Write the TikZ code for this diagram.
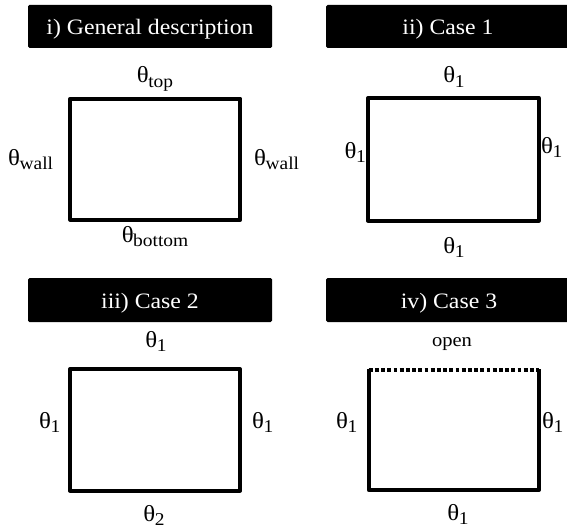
\documentclass[tikz,border=0pt]{standalone}
\usepackage{fontspec}
\setmainfont{Liberation Serif}[FakeStretch=1.08]
\newcommand\thsub[1]{{\fontsize{23}{23}\selectfont θ}\kern-0.5pt\raisebox{-4.5pt}{\fontsize{18}{18}\selectfont #1}}
\begin{document}
\begin{tikzpicture}[x=1pt,y=-1pt,
  titlebox/.style={fill=black,rounded corners=1.5pt},
  titletext/.style={text=white,font=\fontsize{22}{22}\selectfont,inner sep=0pt,anchor=base},
  wall/.style={line width=4pt,line join=round},
  openwall/.style={line width=4pt,dash pattern=on 3.8pt off 2.4pt},
  lab/.style={font=\fontsize{20}{20}\selectfont,inner sep=0pt}]
\useasboundingbox (0,0) rectangle (567,532);
\begin{scope}
\clip (0,0) rectangle (567,532);
% title boxes
\fill[titlebox] (28,5) rectangle (272,48);
\fill[titlebox] (326,5) rectangle (580,48);
\fill[titlebox] (28,278) rectangle (272,322);
\fill[titlebox] (326,278) rectangle (580,322);
\end{scope}
\node[titletext] (t1) at (150,35) {i) General description};
\node[titletext] (t2) at (448,35) {ii) Case 1};
\node[titletext] (t3) at (150,308.5) {iii) Case 2};
\node[titletext] (t4) at (449,308.5) {iv) Case 3};
% boxes
\draw[wall] (70.3,98.7) rectangle (240.3,219.7);
\draw[wall] (368,98) rectangle (538.7,220.7);
\draw[wall] (70,369) rectangle (240,490.5);
\draw[wall] (368.7,369) -- (368.7,490) -- (539,490) -- (539,369);
\draw[openwall] (368.7,369.5) -- (539,369.5);
% panel i labels
\node[lab,anchor=base] (a1) at (155,83) {\thsub{top}};
\node[lab,anchor=base west] (a2) at (8,165) {\thsub{wall}};
\node[lab,anchor=base west] (a3) at (254,165) {\thsub{wall}};
\node[lab,anchor=base] (a4) at (155,242) {\thsub{bottom}};
% panel ii labels
\node[lab,anchor=base] (b1) at (454,83) {\thsub{1}};
\node[lab,anchor=base east] (b2) at (366,158) {\thsub{1}};
\node[lab,anchor=base west] (b3) at (541,153) {\thsub{1}};
\node[lab,anchor=base] (b4) at (454,253) {\thsub{1}};
% panel iii labels
\node[lab,anchor=base] (c1) at (156,347) {\thsub{1}};
\node[lab,anchor=base west] (c2) at (39,428) {\thsub{1}};
\node[lab,anchor=base west] (c3) at (252,428) {\thsub{1}};
\node[lab,anchor=base] (c4) at (154,521) {\thsub{2}};
% panel iv labels
\node[lab,anchor=base,font=\fontsize{19}{19}\selectfont] (d1) at (452,346) {open};
\node[lab,anchor=base west] (d2) at (336,428) {\thsub{1}};
\node[lab,anchor=base west] (d3) at (542,428) {\thsub{1}};
\node[lab,anchor=base] (d4) at (458,520) {\thsub{1}};
\end{tikzpicture}
\end{document}
